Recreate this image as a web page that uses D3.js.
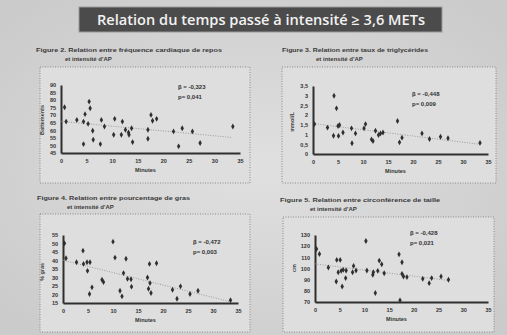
<!DOCTYPE html>
<html lang="fr">
<head>
  <meta charset="UTF-8">
  <title>Relation du temps passé à intensité ≥ 3,6 METs</title>
  <style>
    body { margin: 0; background: #cfcfcf; }
    svg { display: block; }
  </style>
</head>
<body>
<svg width="507" height="335"></svg>

<script src="https://cdn.jsdelivr.net/npm/d3@7/dist/d3.min.js"></script>
<script>
  var minutesFc = [1.0, 0.7, 3.1, 4.4, 4.7, 4.4, 5.3, 5.5, 5.7, 6.2, 6.3, 7.7, 7.9, 8.5, 10.5, 10.3, 11.8, 12.0, 12.6, 13.2, 13.8, 13.3, 14.0, 17.0, 17.0, 17.6, 17.9, 18.7, 22.0, 23.0, 23.7, 25.7, 27.2, 33.6];
  var fcRepos = [65.8, 75.3, 66.9, 50.9, 70.7, 65.8, 64.3, 79.0, 74.6, 59.7, 53.8, 50.9, 66.9, 62.5, 67.6, 57.1, 57.1, 65.8, 60.4, 58.6, 61.4, 57.1, 52.2, 60.4, 54.4, 70.2, 66.3, 67.6, 59.3, 49.4, 61.4, 59.3, 51.6, 62.5];

  var minutesTg = [0.3, 2.9, 4.2, 4.7, 5.0, 5.3, 4.1, 5.1, 6.0, 7.7, 7.8, 8.5, 10.2, 10.5, 11.7, 12.0, 12.5, 13.1, 13.5, 14.0, 16.9, 17.3, 17.8, 21.8, 23.3, 25.5, 27.0, 33.4];
  var triglycerides = [1.54, 1.36, 3.0, 2.35, 1.44, 1.49, 0.94, 0.93, 1.11, 1.32, 0.55, 1.06, 1.32, 1.54, 0.75, 0.67, 1.20, 0.98, 1.06, 1.11, 1.70, 0.60, 0.84, 1.06, 0.77, 0.89, 0.81, 0.57];

  var minutesGras = [0.6, 0.3, 2.7, 4.0, 4.1, 4.8, 5.4, 4.9, 5.3, 5.8, 7.8, 8.1, 10.0, 10.4, 11.4, 11.8, 12.1, 12.6, 12.9, 13.6, 13.7, 16.9, 17.4, 17.1, 17.6, 17.3, 18.7, 21.9, 22.8, 23.5, 25.4, 27.0, 33.5];
  var gras = [41.3, 50.1, 39.0, 45.8, 38.0, 39.0, 39.0, 33.9, 20.3, 24.2, 28.7, 27.3, 51.1, 41.7, 22.2, 18.9, 32.6, 41.0, 29.2, 29.0, 24.6, 30.0, 26.7, 23.4, 20.9, 38.0, 38.4, 22.8, 17.5, 24.8, 20.3, 22.2, 16.6];

  var minutesTaille = [0.3, 0.9, 2.7, 4.3, 4.4, 5.1, 4.7, 5.3, 5.7, 6.3, 5.5, 6.2, 7.8, 7.6, 8.3, 10.5, 10.3, 11.7, 12.2, 11.8, 12.7, 13.0, 13.5, 14.0, 17.0, 17.6, 17.6, 17.9, 17.2, 18.6, 21.8, 23.1, 23.6, 25.5, 27.0];
  var taille = [117.5, 113.0, 100.9, 88.4, 107.7, 107.7, 96.7, 97.9, 98.8, 98.2, 83.9, 91.4, 102.3, 96.7, 98.2, 98.2, 124.6, 94.3, 78.0, 96.7, 97.9, 107.1, 103.8, 95.8, 112.7, 105.6, 95.2, 92.8, 71.5, 92.3, 90.8, 86.9, 91.4, 92.8, 89.9];

  // graduations
  var minutesTicks = [0, 5, 10, 15, 20, 25, 30, 35];
  var fcTicks = [45, 50, 55, 60, 65, 70, 75, 80, 85, 90];
  var tgTicks = [0, 0.5, 1, 1.5, 2, 2.5, 3, 3.5];
  var grasTicks = [15, 20, 25, 30, 35, 40, 45, 50, 55];
  var tailleTicks = [70, 80, 90, 100, 110, 120, 130];

  var titre = "Relation du temps passé à intensité ≥ 3,6 METs";
  var legendes = [
    ["Figure 2. Relation entre fréquence cardiaque de repos", "et intensité d'AP"],
    ["Figure 3. Relation entre taux de triglycérides", "et intensité d'AP"],
    ["Figure 4. Relation entre pourcentage de gras", "et intensité d'AP"],
    ["Figure 5. Relation entre circonférence de taille", "et intensité d'AP"]
  ];
  var betas = ["β = -0,323", "β = -0,448", "β = -0,472", "β = -0,428"];
  var pvals = ["p= 0,041", "p= 0,009", "p= 0,003", "p= 0,021"];
  var yTitres = ["Battements", "mmol/L", "% gras", "cm"];

  var svg = d3.select('svg');
  var font = "'Liberation Sans', Arial, sans-serif";

  // fond de la diapo (photo un peu plus claire au centre)
  var defs = svg.append('defs');
  var grad = defs.append('radialGradient').attr('id', 'fond').attr('cx', '50%').attr('cy', '50%').attr('r', '65%');
  grad.append('stop').attr('offset', '0%').attr('stop-color', '#e0e0e0');
  grad.append('stop').attr('offset', '100%').attr('stop-color', '#cbcbcb');
  svg.append('rect').attr('width', 507).attr('height', 335).attr('fill', 'url(#fond)');

  // bandeau titre
  svg.append('rect').attr('x', 79).attr('y', 7).attr('width', 363).attr('height', 25)
    .attr('fill', '#4b4b4b').attr('stroke', '#9a9a9a').attr('stroke-width', 1);
  svg.append('text').attr('x', 261).attr('y', 25).attr('text-anchor', 'middle')
    .attr('fill', '#f2f2f2').style('font-family', "'Open Sans', sans-serif").style('font-size', '14px')
    .style('font-weight', '600')
    .attr('textLength', 328).attr('lengthAdjust', 'spacingAndGlyphs')
    .text(titre);

  // panneaux : position du cadre, de la légende et des axes
  var panneaux = [
    {xs: minutesFc, ys: fcRepos, yTicks: fcTicks, cap: [36, 52], capW: 186, cap2: 65, box: [40, 67, 210, 116],
     x0: 61, x1: 240, yb: 153, yt: 85, stat: [178, 89], yt2: [44, 120], fmt: d3.format('d')},
    {xs: minutesTg, ys: triglycerides, yTicks: tgTicks, cap: [282, 52], capW: 146, cap2: 316, box: [282, 67, 214, 116],
     x0: 313, x1: 488, yb: 154, yt: 86, stat: [412, 96], yt2: [294, 122], fmt: function (v) { return String(v).replace('.', ','); }},
    {xs: minutesGras, ys: gras, yTicks: grasTicks, cap: [37, 200], capW: 153, cap2: 67, box: [40, 214, 210, 118],
     x0: 63, x1: 238, yb: 303, yt: 235, stat: [193, 244], yt2: [44, 272], fmt: d3.format('d')},
    {xs: minutesTaille, ys: taille, yTicks: tailleTicks, cap: [280, 202], capW: 160, cap2: 310, box: [283, 217, 211, 115],
     x0: 315, x1: 488, yb: 302, yt: 235, stat: [410, 235], yt2: [296, 268], fmt: d3.format('d')}
  ];

  panneaux.forEach(function (p, i) {
    var g = svg.append('g');

    // légende de la figure
    g.append('text').attr('x', p.cap[0]).attr('y', p.cap[1])
      .style('font-family', font).style('font-size', '6px').style('font-weight', 'bold').attr('fill', '#3a3a3a')
      .attr('textLength', p.capW).attr('lengthAdjust', 'spacingAndGlyphs')
      .text(legendes[i][0]);
    g.append('text').attr('x', p.cap2).attr('y', p.cap[1] + 9)
      .style('font-family', font).style('font-size', '6px').style('font-weight', 'bold').attr('fill', '#3a3a3a')
      .text(legendes[i][1]);

    // cadre pointillé
    g.append('rect').attr('x', p.box[0]).attr('y', p.box[1]).attr('width', p.box[2]).attr('height', p.box[3])
      .attr('fill', '#dedede').attr('stroke', '#777').attr('stroke-width', 0.8).attr('stroke-dasharray', '1,1.5');

    var x = d3.scaleLinear().domain([0, 35]).range([p.x0, p.x1]);
    var y = d3.scaleLinear().domain(d3.extent(p.yTicks)).range([p.yb, p.yt]);

    var xAxis = d3.axisBottom(x).tickValues(minutesTicks).tickSize(0).tickPadding(6);
    var yAxis = d3.axisLeft(y).tickValues(p.yTicks).tickSize(0).tickPadding(5).tickFormat(p.fmt);

    var gx = g.append('g').attr('transform', `translate(0, ${p.yb})`).call(xAxis);
    var gy = g.append('g').attr('transform', `translate(${p.x0}, 0)`).call(yAxis);
    [gx, gy].forEach(function (a) {
      a.select('.domain').attr('stroke', '#2e2e2e').attr('stroke-width', 2);
      a.selectAll('text').style('font-family', font).style('font-size', '5.5px')
        .style('font-weight', 'bold').attr('fill', '#333');
    });

    // titres d'axes
    g.append('text').attr('x', (p.x0 + p.x1) / 2 - 5).attr('y', p.yb + 19).attr('text-anchor', 'middle')
      .style('font-family', font).style('font-size', '5.5px').style('font-weight', 'bold').attr('fill', '#333')
      .text('Minutes');
    g.append('text').attr('transform', `translate(${p.yt2[0]}, ${p.yt2[1]}) rotate(-90)`).attr('text-anchor', 'middle')
      .style('font-family', font).style('font-size', '5.5px').style('font-weight', 'bold').attr('fill', '#444')
      .text(yTitres[i]);

    // droite de régression (moindres carrés sur les points)
    var mx = d3.mean(p.xs), my = d3.mean(p.ys);
    var sxy = d3.sum(p.xs, function (v, k) { return (v - mx) * (p.ys[k] - my); });
    var sxx = d3.sum(p.xs, function (v) { return (v - mx) * (v - mx); });
    var b = sxy / sxx, a0 = my - b * mx;
    var xMax = d3.max(p.xs);
    g.append('line').attr('x1', x(0)).attr('y1', y(a0)).attr('x2', x(xMax)).attr('y2', y(a0 + b * xMax))
      .attr('stroke', '#8a8a8a').attr('stroke-width', 0.8).attr('stroke-dasharray', '1,1.5');

    // points
    var pts = p.xs.map(function (v, k) { return [v, p.ys[k]]; });
    g.selectAll('path.pt').data(pts).enter().append('path').attr('class', 'pt')
      .attr('d', d3.symbol().type(d3.symbolDiamond).size(10))
      .attr('transform', function (d) { return `translate(${x(d[0])}, ${y(d[1])})`; })
      .attr('fill', '#2f2f2f');

    // bêta et p
    g.append('text').attr('x', p.stat[0]).attr('y', p.stat[1])
      .style('font-family', font).style('font-size', '6px').style('font-weight', 'bold').attr('fill', '#333')
      .text(betas[i]);
    g.append('text').attr('x', p.stat[0]).attr('y', p.stat[1] + 10)
      .style('font-family', font).style('font-size', '6px').style('font-weight', 'bold').attr('fill', '#333')
      .text(pvals[i]);
  });
</script>
</body>
</html>
